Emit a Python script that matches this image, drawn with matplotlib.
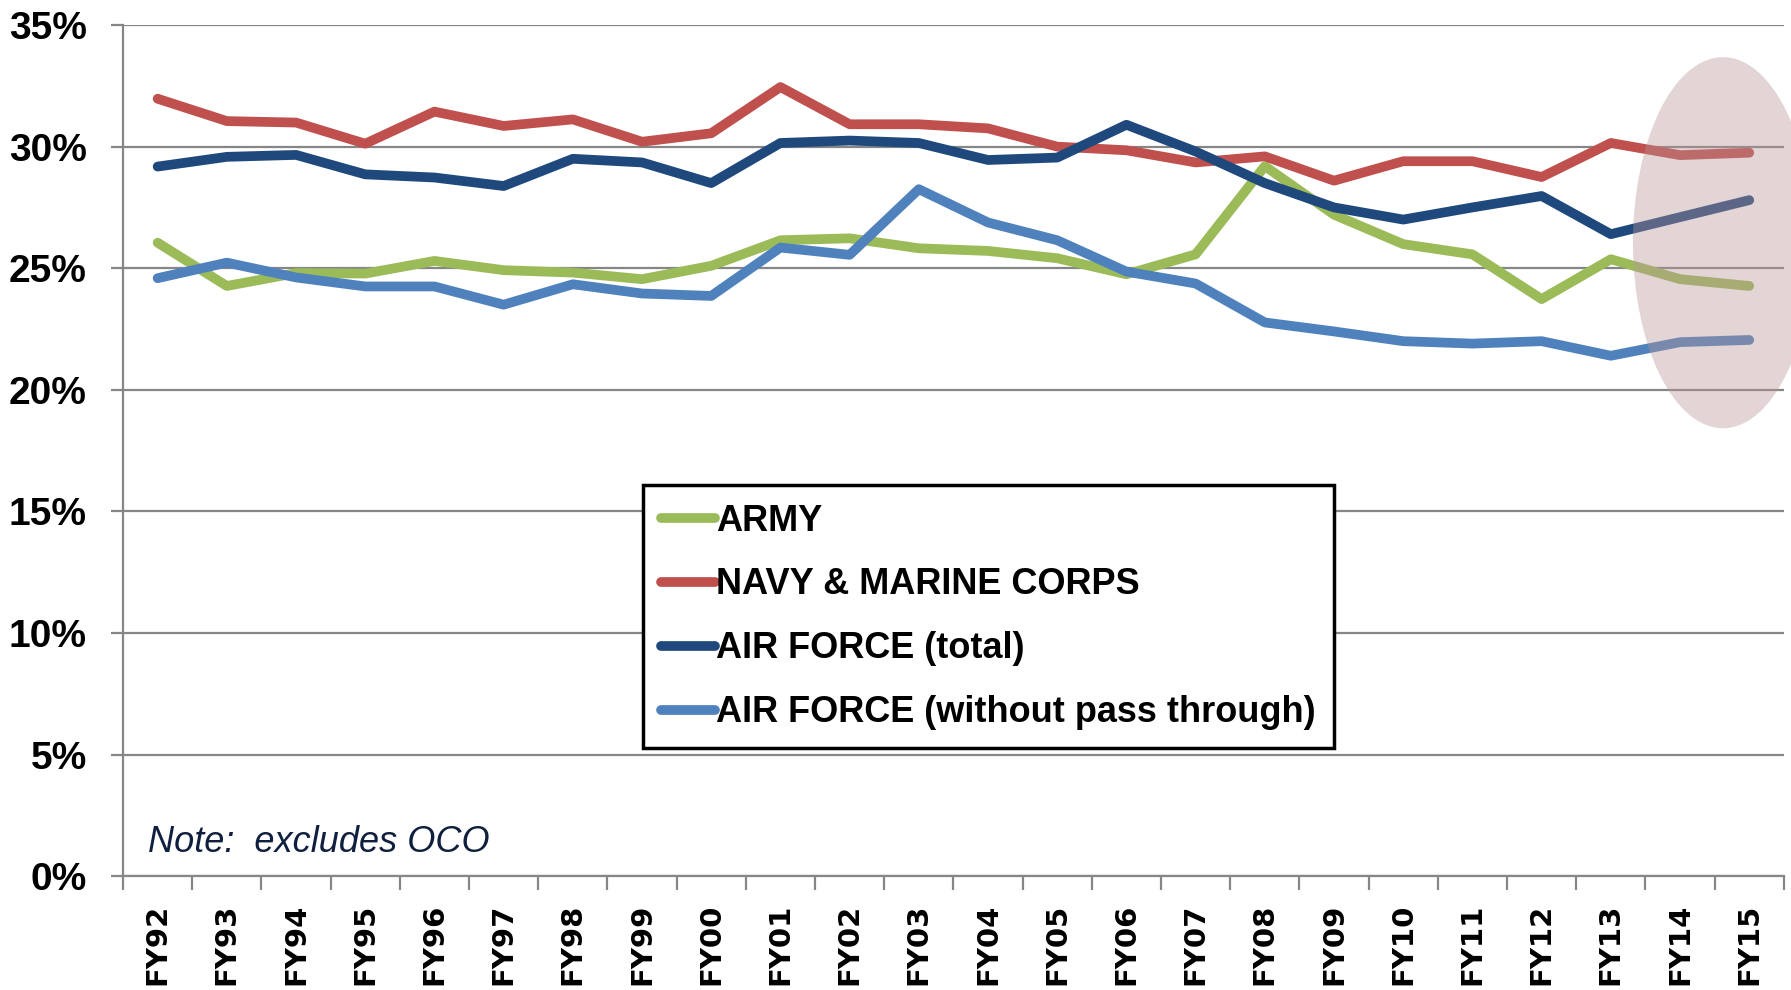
import matplotlib
matplotlib.use("Agg")
import matplotlib.pyplot as plt
from matplotlib.patches import Ellipse
import numpy as np

# Data (percent)
years = ["FY92", "FY93", "FY94", "FY95", "FY96", "FY97", "FY98", "FY99",
         "FY00", "FY01", "FY02", "FY03", "FY04", "FY05", "FY06", "FY07",
         "FY08", "FY09", "FY10", "FY11", "FY12", "FY13", "FY14", "FY15"]

army = [26.05, 24.27, 24.8, 24.78, 25.3, 24.92, 24.82, 24.55,
        25.1, 26.15, 26.23, 25.82, 25.71, 25.41, 24.75, 25.57,
        29.2, 27.2, 25.99, 25.57, 23.73, 25.37, 24.55, 24.27]

navy = [31.97, 31.05, 30.99, 30.12, 31.44, 30.85, 31.12, 30.2,
        30.55, 32.45, 30.92, 30.92, 30.75, 30.0, 29.85, 29.35,
        29.6, 28.6, 29.4, 29.4, 28.75, 30.15, 29.65, 29.75]

af_total = [29.18, 29.58, 29.66, 28.86, 28.73, 28.38, 29.5, 29.35,
            28.5, 30.15, 30.25, 30.15, 29.45, 29.55, 30.9, 29.8,
            28.5, 27.5, 27.0, 27.5, 27.97, 26.4, 27.1, 27.8]

af_no_pass = [24.59, 25.23, 24.62, 24.25, 24.25, 23.5, 24.34, 23.96,
              23.86, 25.85, 25.55, 28.25, 26.88, 26.15, 24.86, 24.37,
              22.77, 22.4, 22.0, 21.9, 22.0, 21.4, 21.96, 22.05]

labels = ["ARMY", "NAVY & MARINE CORPS", "AIR FORCE (total)",
          "AIR FORCE (without pass through)"]
colors = ["#9BBB59", "#C0504D", "#1F497D", "#4F81BD"]

grid_col = "#868686"

fig = plt.figure(figsize=(17.91, 9.9), dpi=100)
ax = fig.add_axes([0.0687, 0.115, 0.9273, 0.8597])

x = np.arange(len(years))
for vals, lab, col in zip([army, navy, af_total, af_no_pass], labels, colors):
    ax.plot(x, vals, color=col, lw=7, label=lab, solid_capstyle="round",
            zorder=3)

ax.set_xlim(-0.5, len(years) - 0.5)
ax.set_ylim(0, 35)

# y axis
ax.set_yticks(np.arange(0, 36, 5))
ax.set_yticklabels([f"{v}%" for v in range(0, 36, 5)])
ax.yaxis.grid(True, color=grid_col, lw=1.6)
ax.set_axisbelow(True)
ax.tick_params(axis="y", length=9, width=1.6, color=grid_col, pad=17,
               labelsize=28)
for t in ax.get_yticklabels():
    t.set_fontfamily("Liberation Sans")
    t.set_fontweight("bold")

# x axis: labels at centres, tick marks on the category edges
ax.set_xticks(x)
ax.set_xticklabels(years, rotation=90, fontfamily="DejaVu Sans",
                   fontweight="bold", fontsize=21)
ax.set_xticks(np.arange(-0.5, len(years), 1), minor=True)
ax.tick_params(axis="x", which="major", length=0, pad=20)
ax.tick_params(axis="x", which="minor", length=10, width=1.6,
               color=grid_col)

for s in ["top", "right"]:
    ax.spines[s].set_visible(False)
ax.spines["left"].set_color(grid_col)
ax.spines["left"].set_linewidth(1.6)
ax.spines["bottom"].set_color(grid_col)
ax.spines["bottom"].set_linewidth(1.6)

# highlight over the last two years
hl_x = len(years) - 1.38
hl_y = 26.05
ax.add_patch(Ellipse((hl_x, hl_y), 2.6, 15.26,
                     facecolor=(185/255, 150/255, 152/255), alpha=0.4, lw=0,
                     clip_on=False, zorder=5))

leg = ax.legend(loc="upper left", bbox_to_anchor=(0.313, 0.459),
                borderaxespad=0, frameon=True, fancybox=False,
                handlelength=1.5, handletextpad=0.03, labelspacing=0.8,
                borderpad=0.5,
                prop={"family": "Liberation Sans", "weight": "bold",
                      "size": 26})
leg.get_frame().set_edgecolor("black")
leg.get_frame().set_linewidth(2.5)
leg.get_frame().set_alpha(1)

ax.text(0.015, 0.04, "Note:  excludes OCO", transform=ax.transAxes,
        fontsize=26, fontstyle="italic", family="Liberation Sans",
        color="#0F1F3D", va="center", ha="left")

fig.savefig("out.png", dpi=100)
